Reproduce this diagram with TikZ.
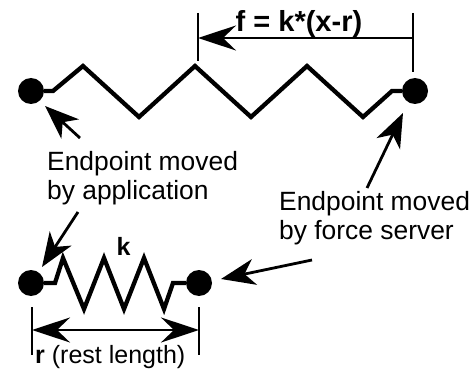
\documentclass[tikz,border=0pt]{standalone}
\usepackage{fontspec}
\setmainfont{Liberation Sans}
\usetikzlibrary{arrows.meta}
\begin{document}
\begin{tikzpicture}[x=1pt,y=-1pt,
  spring/.style={line width=4.3pt, line join=miter},
  dimline/.style={line width=2.8pt},
  bigtip/.tip={Stealth[length=38pt,width=25pt,inset=13pt]},
  ptr/.style={line width=2.8pt, -{Stealth[length=34pt,width=26pt,inset=10pt]}},
  dot/.style={circle,fill=black,inner sep=0pt,minimum size=26pt},
  lab/.style={font=\fontsize{26.4}{29}\selectfont, align=left, inner sep=0pt},
  blab/.style={font=\fontsize{25}{29}\selectfont, inner sep=0pt}
]
\useasboundingbox (0,0) rectangle (474,377);
% dots
\node[dot] (tl) at (31,91) {};
\node[dot] (tr) at (415,91) {};
\node[dot] (bl) at (31,283) {};
\node[dot] (br) at (199,283) {};
% top spring
\draw[spring] (tl.east) -- (53,91) -- (83,66) -- (139,117) -- (195,66) -- (251,117)
  -- (307,66) -- (363,117) -- (392,91) -- (tr.west);
% bottom spring
\draw[spring] (bl.east) -- (55,283) -- (63,258) -- (84,309) -- (104,258) -- (124,309)
  -- (144,258) -- (164,309) -- (173,283) -- (br.west);
% top dimension
\coordinate (ftl) at (198,13);
\coordinate (fbl) at (198,61);
\coordinate (ftr) at (413,13);
\coordinate (fbr) at (413,72);
\draw[dimline] (ftl) -- (fbl);
\draw[dimline] (ftr) -- (fbr);
\coordinate (fa) at (413,38);
\coordinate (fb) at (198,38);
\draw[dimline,-bigtip] (fa) -- (fb);
\node[blab, font=\fontsize{29}{32}\selectfont\bfseries, anchor=base] (flab) at (299,32) {f = k*(x-r)};
% bottom dimension
\coordinate (rtl) at (32,307);
\coordinate (rbl) at (32,355);
\coordinate (rtr) at (199,307);
\coordinate (rbr) at (199,355);
\draw[dimline] (rtl) -- (rbl);
\draw[dimline] (rtr) -- (rbr);
\coordinate (ra) at (32,330);
\coordinate (rb) at (199,330);
\draw[dimline,bigtip-bigtip] (ra) -- (rb);
\node[blab, anchor=base west] (rlab) at (35,363) {\textbf{r} (rest length)};
\node[blab, font=\fontsize{25}{29}\selectfont\bfseries, anchor=base] (klab) at (123.5,255) {k};
% labels
\node[lab, anchor=north west] (app) at (47,151) {Endpoint moved\\by application};
\node[lab, anchor=north west] (fs) at (279,191) {Endpoint moved\\by force server};
% pointers
\coordinate (p1s) at (80,138);
\coordinate (p1e) at (45,106);
\coordinate (p2s) at (78,212);
\coordinate (p2e) at (42,267);
\coordinate (p3s) at (367,188);
\coordinate (p3e) at (403,113);
\coordinate (p4s) at (312,260);
\coordinate (p4e) at (221,279);
\draw[ptr] (p1s) -- (p1e);
\draw[ptr] (p2s) -- (p2e);
\draw[ptr] (p3s) -- (p3e);
\draw[ptr] (p4s) -- (p4e);
\end{tikzpicture}
\end{document}
